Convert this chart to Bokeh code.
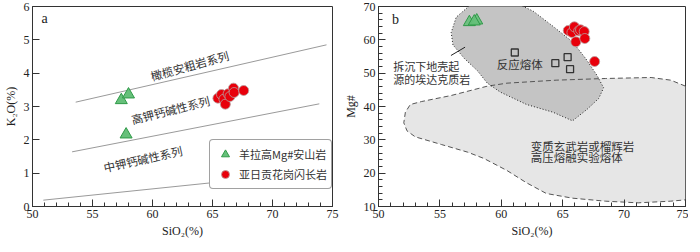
from bokeh.plotting import figure
from bokeh.layouts import row
from bokeh.models import Range1d, SingleIntervalTicker, Legend, LegendItem
from bokeh.core.properties import value
from bokeh.embed import file_html
from bokeh.resources import INLINE

# ---------------- data: panel a (SiO2 vs K2O) ----------------
yangla_sio2 = [57.4, 58.0, 57.8]
yangla_k2o = [3.19, 3.36, 2.16]
yarigong_sio2 = [65.45, 65.75, 65.95, 66.07, 66.3, 66.45, 66.75, 66.8, 67.6]
yarigong_k2o = [3.25, 3.36, 3.22, 3.07, 3.38, 3.30, 3.55, 3.42, 3.48]

bound_sho_x = [53.6, 74.5]
bound_sho_y = [3.13, 4.85]
bound_hk_x = [53.3, 73.9]
bound_hk_y = [1.64, 3.08]
bound_mk_x = [50.9, 74.0]
bound_mk_y = [0.19, 1.05]

series_names_a = ["橄榄安粗岩系列", "高钾钙碱性系列", "中钾钙碱性系列"]
legend_names = ["羊拉高Mg#安山岩", "亚日贡花岗闪长岩"]

# ---------------- data: panel b (SiO2 vs Mg#) ----------------
yangla_mg = [65.3, 65.8, 65.5]
yarigong_mg = [62.8, 62.2, 63.9, 59.4, 62.7, 63.0, 62.5, 60.4, 53.5]
melt_sio2 = [61.1, 64.4, 65.4, 65.6]
melt_mg = [56.2, 53.0, 54.8, 51.2]

adakite_x = [57.4, 56.33, 55.92, 56.06, 56.99, 58.06, 58.86, 59.93, 62.06, 64.2,
             65.8, 67.0, 67.93, 68.33, 67.8, 66.87, 65.8, 64.2, 62.6, 61.67]
adakite_y = [70.2, 66.8, 62.2, 58.5, 54.4, 50.7, 47.0, 44.3, 40.6, 38.3,
             35.7, 39.2, 42.4, 45.6, 49.3, 54.4, 59.4, 64.1, 68.6, 70.2]
exper_x = [75.0, 73.8, 72.2, 68.47, 64.47, 60.46, 58.86, 55.92, 53.52, 52.59, 52.19,
           52.06, 52.32, 52.99, 55.12, 57.26, 58.59, 60.46, 62.06, 63.67, 65.8,
           68.47, 71.14, 73.8, 75.0]
exper_y = [46.1, 47.9, 48.7, 48.4, 47.9, 47.0, 46.1, 43.3, 41.5, 40.6, 38.3,
           35.1, 32.7, 30.9, 28.6, 26.3, 24.4, 20.8, 17.1, 13.9, 12.5,
           11.6, 11.1, 11.6, 12.0]

SERIF = "Liberation Serif"
CJK = "Noto Sans CJK SC"
AX = "#333333"


def style(p, xlabel, ylabel, yint, ymin_ticks):
    p.xgrid.visible = False
    p.ygrid.visible = False
    p.outline_line_color = AX
    p.outline_line_width = 1
    p.xaxis.ticker = SingleIntervalTicker(interval=5, num_minor_ticks=5)
    p.yaxis.ticker = SingleIntervalTicker(interval=yint, num_minor_ticks=ymin_ticks)
    for ax in (p.xaxis[0], p.yaxis[0]):
        ax.axis_line_color = AX
        ax.major_tick_line_color = AX
        ax.minor_tick_line_color = AX
        ax.major_tick_in = 7
        ax.major_tick_out = 0
        ax.minor_tick_in = 4
        ax.minor_tick_out = 0
        ax.major_label_text_font = SERIF
        ax.major_label_text_font_size = "12px"
        ax.major_label_text_color = "#222222"
        ax.axis_label_text_font = SERIF
        ax.axis_label_text_font_size = "12px"
        ax.axis_label_text_font_style = "normal"
        ax.axis_label_text_color = "#222222"
        ax.major_label_standoff = 3
        ax.axis_label_standoff = 3
    if ymin_ticks <= 1:
        p.yaxis.minor_tick_line_color = None
    p.xaxis.axis_label = xlabel
    p.yaxis.axis_label = ylabel


# ---------------- panel a ----------------
pa = figure(width=340, height=240, output_backend="svg", toolbar_location=None,
            x_range=Range1d(50, 75), y_range=Range1d(0, 6),
            min_border_left=27, min_border_right=8, min_border_top=6, min_border_bottom=33)
style(pa, "SiO₂(%)", "K₂O(%)", 1, 1)

for bx, by in ((bound_sho_x, bound_sho_y), (bound_hk_x, bound_hk_y), (bound_mk_x, bound_mk_y)):
    pa.line(bx, by, line_color="#9a9a9a", line_width=1)

pa.text(x=[63.1, 61.5, 59.2], y=[4.23, 2.9, 1.43], text=series_names_a,
        angle=[15.5, 14.0, 12.5], angle_units="deg",
        text_font=value(CJK), text_font_size="11.5px", text_color="#333333",
        text_align="center", text_baseline="middle")
pa.text(x=[50.75], y=[5.65], text=["a"], text_font=value(SERIF), text_font_size="14px",
        text_color="#222222", text_align="left", text_baseline="middle")

tri_a = pa.scatter(yangla_sio2, yangla_k2o, marker="triangle", size=12,
                   fill_color="#66c07a", line_color="#2f9a48", line_width=1)
cir_a = pa.scatter(yarigong_sio2, yarigong_k2o, marker="circle", size=10,
                   fill_color="#e8000b", line_color="#b8a0a0", line_width=0.8)

legend = Legend(items=[LegendItem(label=legend_names[0], renderers=[tri_a]),
                       LegendItem(label=legend_names[1], renderers=[cir_a])],
                location=(177, 17), orientation="vertical")
legend.border_line_color = "#444444"
legend.border_line_width = 1
legend.background_fill_color = "white"
legend.background_fill_alpha = 1
legend.label_text_font = CJK
legend.label_text_font_size = "11px"
legend.label_text_color = "#333333"
legend.glyph_height = 20
legend.glyph_width = 22
legend.padding = 4
legend.spacing = 0
legend.label_standoff = 3
legend.margin = 0
if "border_radius" in Legend.properties():
    legend.border_radius = 4
pa.add_layout(legend)

# ---------------- panel b ----------------
pb = figure(width=348, height=240, output_backend="svg", toolbar_location=None,
            x_range=Range1d(50, 75), y_range=Range1d(10, 70),
            min_border_left=36, min_border_right=3, min_border_top=6, min_border_bottom=33)
style(pb, "SiO₂(%)", "Mg#", 10, 5)

pb.patch(exper_x, exper_y, fill_color="#e6e6e6", line_color=None)
pb.patch(adakite_x, adakite_y, fill_color="#c4c4c4", line_color=None)
pb.line(exper_x, exper_y, line_color="#555555", line_width=1, line_dash="5 3")
pb.line(adakite_x, adakite_y, line_color="#222222", line_width=1, line_dash="1 2")
pb.line([55.9, 57.05], [55.3, 57.8], line_color="#222222", line_width=1)

pb.scatter(melt_sio2, melt_mg, marker="square", size=7, fill_color="#c4c4c4",
           line_color="#333333", line_width=1.3)
pb.scatter(yangla_sio2, yangla_mg, marker="triangle", size=12,
           fill_color="#66c07a", line_color="#2f9a48", line_width=1, fill_alpha=0.9)
pb.scatter(yarigong_sio2, yarigong_mg, marker="circle", size=10,
           fill_color="#e8000b", line_color="#b8a0a0", line_width=0.8)

pb.text(x=[51.2, 51.2], y=[52.3, 48.4], text=["拆沉下地壳起", "源的埃达克质岩"],
        text_font=value(CJK), text_font_size="11px", text_color="#333333",
        text_align="left", text_baseline="middle")
pb.text(x=[61.5], y=[52.8], text=["反应熔体"],
        text_font=value(CJK), text_font_size="11.5px", text_color="#333333",
        text_align="center", text_baseline="middle")
pb.text(x=[62.4, 62.4], y=[28.2, 24.9], text=["变质玄武岩或榴辉岩", "高压熔融实验熔体"],
        text_font=value(CJK), text_font_size="11.5px", text_color="#333333",
        text_align="left", text_baseline="middle")
pb.text(x=[51.1], y=[66.0], text=["b"], text_font=value(SERIF), text_font_size="14px",
        text_color="#222222", text_align="left", text_baseline="middle")

layout = row(pa, pb, spacing=0)
open("out.html", "w").write(file_html(layout, INLINE))
